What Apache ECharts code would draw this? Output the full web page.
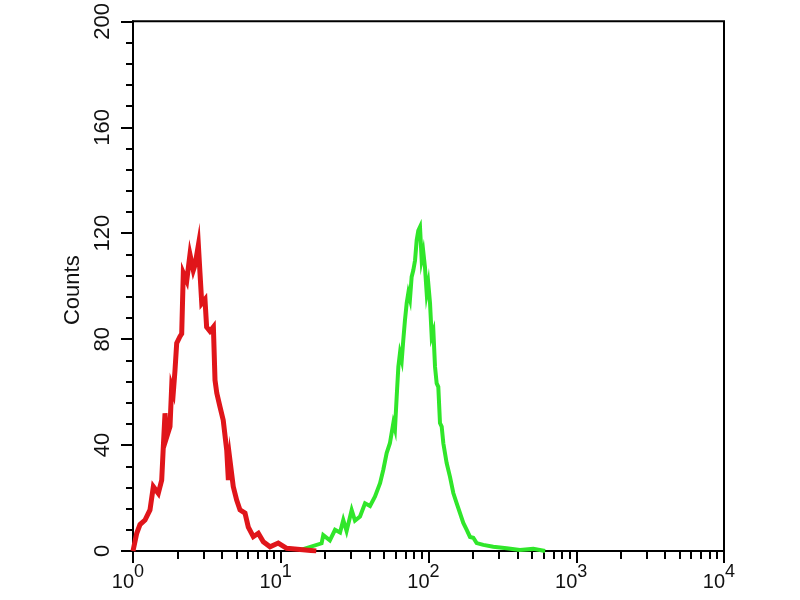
<!DOCTYPE html>
<html>
<head>
<meta charset="utf-8">
<script src="https://cdn.jsdelivr.net/npm/echarts@6/dist/echarts.min.js"></script>
<style>html,body{margin:0;padding:0;background:#fff;}#c{width:800px;height:600px;}</style>
</head>
<body>
<div id="c"></div>
<script>
// Tick values
const yTicks = [0, 40, 80, 120, 160, 200];
const xMajorTicks = [1, 10, 100, 1000, 10000];
const xMinorTicks = [2,3,4,5,6,7,8,9,20,30,40,50,60,70,80,90,200,300,400,500,600,700,800,900,2000,3000,4000,5000,6000,7000,8000,9000];

// Red histogram (fluorescence intensity, counts)
const redX = [1.00,1.06,1.115,1.206,1.303,1.373,1.483,1.564,1.604,1.647,1.69,1.78,1.827,1.875,1.923,1.976,2.08,2.136,2.19,2.31,2.43,2.56,2.63,2.77,2.84,2.92,3.07,3.15,3.32,3.50,3.59,3.69,3.88,4.08,4.31,4.42,4.53,4.77,5.03,5.30,5.73,6.03,6.52,7.05,7.62,8.46,9.62,10.97,14.1,17.4];
const redY = [0,6.7,10,11.7,15.5,24.3,21.8,26.8,39.4,52,43,47,62,60,68,78.5,81,82,105,102,112,106,108,115.5,105,93.5,95,84.6,83,84.6,64.5,59.6,54.4,49.4,38,26.8,34.3,24.3,19.2,15.5,14.3,9,5.4,6.7,3.5,1.6,3,1,0.5,0];

// Green histogram
const greenX = [13.5,18.9,19.4,21.5,23.3,25.2,26.5,27.9,30.2,31.8,34.4,37.2,40.2,43.4,47.0,49.4,52.1,54.8,57.8,59.3,60.9,62.5,64.1,65.9,67.5,69.3,71.2,73.0,74.9,76.9,78.9,81.1,83.2,85.3,87.6,89.9,92.2,94.6,97.2,99.7,102.4,105.1,107.9,110.7,113.6,116.5,119.6,122.8,126,132.7,139.8,147.2,155.2,163.4,172.0,181.4,191,201,211.8,235,274.5,338,416,512,616];
const greenY = [0.3,2.9,6,4,8,7,11.7,7.5,15.5,11.5,13,18,17,20.5,25.6,30.6,37,40.7,48.3,46,58.2,69.5,74.7,72,79.6,87.2,93.6,97.4,95,103.5,106,109.8,117.4,121,122.4,110,113,107.3,97.4,101,93.6,81,83,69.5,63.3,62,48.3,47,40.7,33.2,28,21.9,18,14.3,10.6,8,5.3,5,3,2.3,1.6,1,0.4,0.8,0];

const font = "'Liberation Sans', Arial, Helvetica, sans-serif";
const chart = echarts.init(document.getElementById('c'), null, {renderer: 'canvas'});
chart.setOption({
  animation: false,
  backgroundColor: '#ffffff',
  grid: {left: 133, right: 76, top: 21, bottom: 49, show: true, borderColor: '#000', borderWidth: 2, containLabel: false},
  xAxis: [{
    type: 'log', logBase: 10, min: 1, max: 10000, position: 'bottom',
    axisLine: {show: true, lineStyle: {color: '#000', width: 2}},
    axisTick: {show: true, length: 12, customValues: xMajorTicks, lineStyle: {color: '#000', width: 2}},
    splitLine: {show: false},
    axisLabel: {
      show: true, customValues: xMajorTicks, margin: 12, padding: [0, 10, 0, 0], color: '#111', fontFamily: font,
      formatter: function (v) { return '{b|10}{s|' + Math.round(Math.log10(v)) + '}'; },
      rich: {
        b: {fontSize: 20, lineHeight: 20, verticalAlign: 'top', padding: [9, 0, 0, 0], fontFamily: font, color: '#111'},
        s: {fontSize: 18, lineHeight: 20, verticalAlign: 'top', fontFamily: font, color: '#111'}
      }
    }
  }, {
    type: 'log', logBase: 10, min: 1, max: 10000, position: 'bottom',
    axisLine: {show: false},
    axisTick: {show: true, length: 8, customValues: xMinorTicks, lineStyle: {color: '#000', width: 2}},
    axisLabel: {show: false},
    splitLine: {show: false}
  }],
  yAxis: {
    type: 'value', min: 0, max: 200, interval: 40,
    name: 'Counts', nameLocation: 'middle', nameGap: 47,
    nameTextStyle: {fontSize: 22, color: '#111', fontFamily: font, padding: [0, 0, 0, -8]},
    axisLine: {show: true, lineStyle: {color: '#000', width: 2}},
    axisTick: {show: true, length: 12, lineStyle: {color: '#000', width: 2}},
    minorTick: {show: true, splitNumber: 5, length: 7, lineStyle: {color: '#000', width: 2}},
    splitLine: {show: false},
    axisLabel: {rotate: 90, margin: 19, fontSize: 22, color: '#111', fontFamily: font,
      formatter: function (v) { return yTicks.indexOf(v) >= 0 ? String(v) : ''; }}
  },
  series: [{
    type: 'line', xAxisIndex: 0, showSymbol: false, silent: true,
    data: redX.map((x, i) => [x, redY[i]]),
    lineStyle: {color: '#e0151a', width: 5, join: 'miter'}, z: 3
  }, {
    type: 'line', xAxisIndex: 0, showSymbol: false, silent: true,
    data: greenX.map((x, i) => [x, greenY[i]]),
    lineStyle: {color: '#30e62a', width: 4, join: 'miter'}, z: 2
  }]
});
</script>
</body>
</html>
